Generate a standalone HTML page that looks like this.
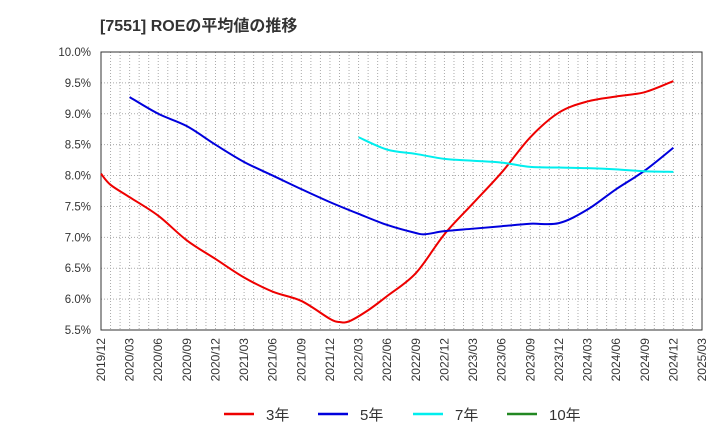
<!DOCTYPE html>
<html><head><meta charset="utf-8"><style>
body{margin:0;background:#fff;font-family:"Liberation Sans","Noto Sans CJK JP",sans-serif}
svg text{font-family:"Liberation Sans","Noto Sans CJK JP",sans-serif}
</style></head><body>
<svg id="c" width="720" height="440" xmlns="http://www.w3.org/2000/svg">
<text x="100" y="31" font-size="16" font-weight="bold" fill="#333">[7551]  ROEの平均値の推移</text>
<g id="grid"></g><g id="axes"></g><g id="series"></g><g id="legend"></g>
</svg>
<script>
const xLabels=["2019/12","2020/03","2020/06","2020/09","2020/12","2021/03","2021/06","2021/09","2021/12","2022/03","2022/06","2022/09","2022/12","2023/03","2023/06","2023/09","2023/12","2024/03","2024/06","2024/09","2024/12","2025/03"];
const yTicks=[5.5,6.0,6.5,7.0,7.5,8.0,8.5,9.0,9.5,10.0];
// month offsets from 2019/12
const m3=[0,1,3,6,9,12,15,18,21,24,25,26,28,30,33,36,39,42,45,48,51,54,57,60];
const v3=[8.03,7.85,7.65,7.35,6.95,6.65,6.35,6.12,5.97,5.68,5.63,5.64,5.82,6.05,6.42,7.05,7.55,8.05,8.62,9.02,9.2,9.28,9.35,9.53];
const m5=[3,6,9,12,15,18,21,24,27,30,33,34,36,39,42,45,48,51,54,57,60];
const v5=[9.27,9.0,8.8,8.5,8.22,8.0,7.78,7.57,7.38,7.2,7.07,7.05,7.1,7.14,7.18,7.22,7.23,7.45,7.78,8.08,8.45];
const m7=[27,30,33,36,39,42,45,48,51,54,57,60];
const v7=[8.62,8.42,8.35,8.27,8.24,8.21,8.14,8.13,8.12,8.1,8.07,8.06];
const X0=101,X1=702,Y0=330,Y1=52;
const xs=m=>X0+(X1-X0)*m/63;
const ys=v=>Y0-(Y0-Y1)*(v-5.5)/4.5;
const NS="http://www.w3.org/2000/svg";
function mk(t,a,p){const e=document.createElementNS(NS,t);for(const k in a)e.setAttribute(k,a[k]);p.appendChild(e);return e;}
const g=document.getElementById('grid'),ax=document.getElementById('axes'),se=document.getElementById('series'),lg=document.getElementById('legend');
for(let m=1;m<63;m++){const l=mk('line',{x1:xs(m),x2:xs(m),y1:Y1,y2:Y0,stroke:'#aaa','stroke-dasharray':'1,2','stroke-width':1},g);

}
yTicks.forEach(v=>{const l=mk('line',{x1:X0,x2:X1,y1:ys(v),y2:ys(v),stroke:'#aaa','stroke-dasharray':'1,2'},g);


const t=mk('text',{x:X0-10,y:ys(v)+4,'text-anchor':'end','font-size':'11.5',fill:'#333'},ax);t.textContent=v.toFixed(1)+'%';

});
const fr=mk('rect',{x:X0,y:Y1,width:X1-X0,height:Y0-Y1,fill:'none',stroke:'#333'},ax);


xLabels.forEach((s,i)=>{const x=xs(i*3);const t=mk('text',{x:0,y:0,transform:`translate(${x+4},${Y0+8}) rotate(-90)`,'text-anchor':'end','font-size':'12',fill:'#333'},ax);t.textContent=s;

});
function path(ms,vs){const p=ms.map((m,i)=>[xs(m),ys(vs[i])]);let d=`M${p[0][0]},${p[0][1]}`;
for(let i=0;i<p.length-1;i++){const a=p[i-1]||p[i],b=p[i],c=p[i+1],e=p[i+2]||c;
d+=` C${b[0]+(c[0]-a[0])/6},${b[1]+(c[1]-a[1])/6} ${c[0]-(e[0]-b[0])/6},${c[1]-(e[1]-b[1])/6} ${c[0]},${c[1]}`;}return d;}
[[m3,v3,'#ee0000','line-3yr'],[m5,v5,'#0000dd','line-5yr'],[m7,v7,'#00eeee','line-7yr']].forEach(s=>{
const p=mk('path',{d:path(s[0],s[1]),fill:'none',stroke:s[2],'stroke-width':2},se);

});
[['3年','#ee0000',224],['5年','#0000dd',318],['7年','#00eeee',413],['10年','#228822',507]].forEach(l=>{
const ln=mk('line',{x1:l[2],x2:l[2]+30,y1:414,y2:414,stroke:l[1],'stroke-width':2.5},lg);


const t=mk('text',{x:l[2]+42,y:420,'font-size':'15',fill:'#333'},lg);t.textContent=l[0];

});
</script>
</body></html>
